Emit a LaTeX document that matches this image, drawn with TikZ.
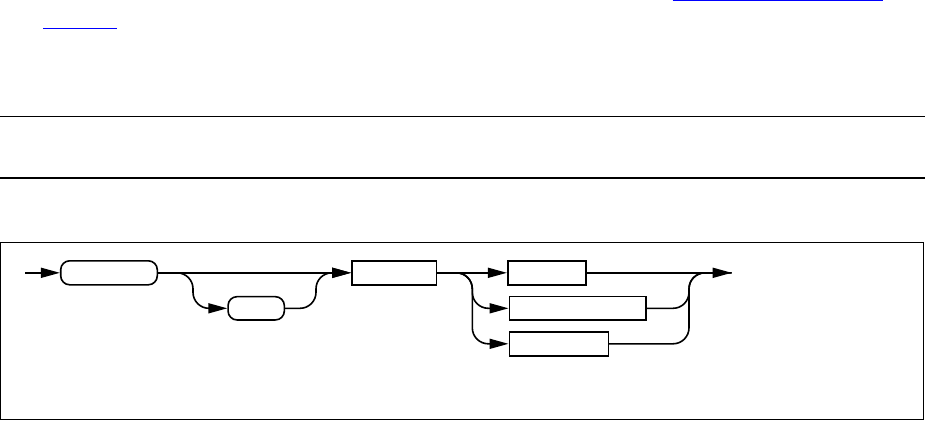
\documentclass[tikz,border=0pt]{standalone}
\usetikzlibrary{positioning,arrows.meta}
\tikzset{
  wire/.style  = {line width=1.6pt, rounded corners=16pt},
  ahead/.style = {-{Triangle[length=19pt,width=10pt]}},
  kbox/.style  = {draw, line width=1.6pt, rounded corners=9pt, minimum height=24pt,
                  inner sep=0pt},
  rbox/.style  = {draw, line width=1.6pt, minimum height=24pt, inner sep=0pt},
  rule/.style  = {line width=1.2pt},
  link/.style  = {line width=1.1pt, blue},
}
\begin{document}
\begin{tikzpicture}[x=1pt,y=-1pt]
  \useasboundingbox (0,0) rectangle (925,421);
  % underlines of the text above
  \draw[link] (672.6,0.6) -- (883.2,0.6);
  \draw[link] (43.3,28.3) -- (116.7,28.3);
  \draw[rule] (0,116.3) -- (925,116.3);
  \draw[rule] (0,178) -- (925,178);
  \draw[rule] (0.7,242.3) rectangle (923.3,419.7);
  % syntax boxes
  \node[kbox, minimum width=96.6pt] (t1) at (109,272.8) {};
  \node[kbox, minimum width=56.3pt, minimum height=23.3pt] (t2) at (256.2,308.3) {};
  \node[rbox, minimum width=84.7pt] (n1) at (394.3,272.8) {};
  \node[rbox, minimum width=78pt] (n2) at (546.7,272.8) {};
  \node[rbox, minimum width=136.7pt, minimum height=23.3pt] (n3) at (577.7,308.3) {};
  \node[rbox, minimum width=99pt] (n4) at (558.8,343.8) {};
  \coordinate (in) at (25,272.8);
  \coordinate (b1) at (193,272.8);
  \coordinate (m1) at (316,272.8);
  \coordinate (b2) at (472.3,272.8);
  \coordinate (m2) at (689,272.8);
  \coordinate (out) at (731.7,272.8);
  % tracks
  \draw[wire,ahead] (in) -- (t1.west);
  \draw[wire,ahead] (t1.east) -- (n1.west);
  \draw[wire,ahead] (t1.east) -- (b1) |- (t2.west);
  \draw[wire,ahead] (t2.east) -| (m1) -- (n1.west);
  \draw[wire,ahead] (n1.east) -- (n2.west);
  \draw[wire,ahead] (n1.east) -- (b2) |- (n3.west);
  \draw[wire,ahead] (n1.east) -- (b2) |- (n4.west);
  \draw[wire,ahead] (n2.east) -- (out);
  \draw[wire] (n3.east) -| (m2) -- (out);
  \draw[wire] (n4.east) -| (m2) -- (out);
\end{tikzpicture}
\end{document}
